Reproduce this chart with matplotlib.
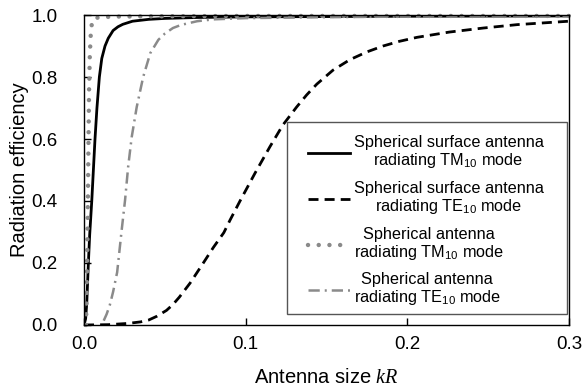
import numpy as np
import matplotlib
matplotlib.use("Agg")
import matplotlib.pyplot as plt
from matplotlib.ticker import FormatStrFormatter
from matplotlib.patches import Rectangle

# ---------------------------
# Data
# ---------------------------
# Spherical surface antenna, TM10
kr_surf_tm = [0.0, 0.001, 0.0017, 0.0027, 0.0035, 0.0048, 0.0058, 0.0068, 0.008,
              0.0095, 0.011, 0.013, 0.015, 0.018, 0.021, 0.024, 0.03, 0.04, 0.05,
              0.07, 0.1, 0.15, 0.2, 0.3]
eff_surf_tm = [0.0, 0.02, 0.07, 0.2, 0.29, 0.4, 0.5, 0.6, 0.7,
               0.8, 0.86, 0.9, 0.925, 0.95, 0.962, 0.97, 0.98, 0.986, 0.989,
               0.992, 0.994, 0.995, 0.996, 0.997]

# Spherical surface antenna, TE10
kr_surf_te = [0.0, 0.015, 0.027, 0.035, 0.040, 0.045, 0.051, 0.055, 0.059,
              0.0656, 0.0738, 0.080, 0.0865, 0.0903, 0.0965, 0.1058, 0.115,
              0.123, 0.1315, 0.1377, 0.144, 0.154, 0.1645, 0.175, 0.185, 0.195,
              0.206, 0.226, 0.247, 0.268, 0.3]
eff_surf_te = [0.0, 0.001, 0.005, 0.010, 0.016, 0.028, 0.047, 0.066, 0.09,
               0.135, 0.20, 0.25, 0.298, 0.338, 0.40, 0.49, 0.575,
               0.645, 0.703, 0.742, 0.777, 0.822, 0.856, 0.881, 0.9, 0.915,
               0.928, 0.945, 0.958, 0.969, 0.98]

# Spherical antenna, TM10
kr_sph_tm = [0.0012, 0.0017, 0.0022, 0.0027, 0.0031, 0.0036, 0.0042, 0.0048,
             0.0055, 0.007, 0.01, 0.02, 0.05, 0.1, 0.3]
eff_sph_tm = [0.0, 0.1, 0.3, 0.55, 0.75, 0.87, 0.94, 0.97,
              0.985, 0.99, 0.993, 0.995, 0.996, 0.997, 0.997]

# Spherical antenna, TE10
kr_sph_te = [0.0122, 0.014, 0.016, 0.018, 0.0205, 0.0233, 0.0254, 0.0273,
             0.0295, 0.0326, 0.0366, 0.041, 0.046, 0.05, 0.055, 0.06, 0.07,
             0.08, 0.1, 0.15, 0.2, 0.3]
eff_sph_te = [0.014, 0.035, 0.065, 0.107, 0.17, 0.306, 0.403, 0.51,
              0.606, 0.703, 0.8, 0.877, 0.92, 0.94, 0.958, 0.968, 0.98,
              0.986, 0.99, 0.993, 0.995, 0.996]

labels = [
    "Spherical surface antenna\nradiating TM$_{\\mathregular{10}}$ mode",
    "Spherical surface antenna\nradiating TE$_{\\mathregular{10}}$ mode",
    "Spherical antenna\nradiating TM$_{\\mathregular{10}}$ mode",
    "Spherical antenna\nradiating TE$_{\\mathregular{10}}$ mode",
]

# ---------------------------
# Style
# ---------------------------
plt.rcParams["font.family"] = ["Liberation Sans", "DejaVu Sans"]
plt.rcParams["mathtext.fontset"] = "custom"
plt.rcParams["mathtext.rm"] = "Liberation Sans"
plt.rcParams["mathtext.it"] = "Liberation Serif:italic"

GRAY = "#8a8a8a"

fig = plt.figure(figsize=(5.85, 3.88), dpi=100)
ax = fig.add_axes([0.1436, 0.1624, 0.829, 0.7989])

ax.plot(kr_surf_tm, eff_surf_tm, color="black", lw=2.0, label=labels[0])
ax.plot(kr_surf_te, eff_surf_te, color="black", lw=2.0, dashes=(3.6, 2.2),
        label=labels[1])
ax.plot(kr_sph_tm, eff_sph_tm, color=GRAY, lw=3.2, dashes=(0.01, 2.4),
        dash_capstyle="round", label=labels[2], clip_on=False)
ax.plot(kr_sph_te, eff_sph_te, color=GRAY, lw=1.8, dashes=(4.5, 2.0, 0.8, 2.0),
        label=labels[3])

ax.set_xlim(0, 0.3)
ax.set_ylim(0, 1.0)
ax.set_xticks([0.0, 0.1, 0.2, 0.3])
ax.set_yticks([0.0, 0.2, 0.4, 0.6, 0.8, 1.0])
ax.xaxis.set_major_formatter(FormatStrFormatter("%.1f"))
ax.yaxis.set_major_formatter(FormatStrFormatter("%.1f"))
ax.tick_params(direction="in", length=5, width=1, labelsize=13.5)
ax.tick_params(axis="x", pad=8)
ax.tick_params(axis="y", pad=19)
for sp in ax.spines.values():
    sp.set_linewidth(1.0)

ax.set_xlabel("Antenna size $kR$", fontsize=14.5, labelpad=11)
ax.set_ylabel("Radiation efficiency", fontsize=14.5, labelpad=2)

# legend box drawn separately (wider padding than matplotlib's uniform borderpad)
ax.add_patch(Rectangle((0.4186, 0.0355), 0.5773, 0.6193, transform=ax.transAxes,
                       facecolor="white", edgecolor="#555555", lw=1.0, zorder=4))
leg = ax.legend(loc="upper left", bbox_to_anchor=(0.4619, 0.612),
                borderaxespad=0, borderpad=0, fontsize=11.7, frameon=False,
                handlelength=2.6, handletextpad=0.2, labelspacing=0.65)
leg.set_zorder(5)
for t in leg.get_texts():
    t.set_multialignment("center")
    t.set_linespacing(1.08)

fig.savefig("out.png", dpi=100)
